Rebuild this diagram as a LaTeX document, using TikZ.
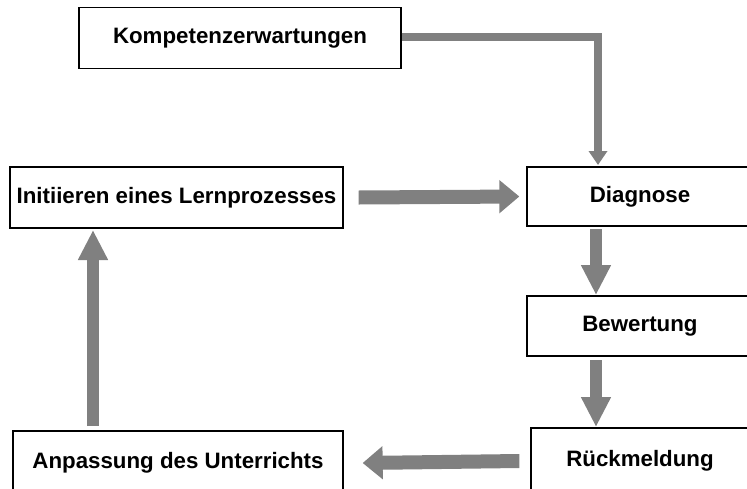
\documentclass[tikz,border=0pt]{standalone}
\usepackage{fontspec}
\setmainfont{Liberation Sans}
\usetikzlibrary{arrows.meta}
\definecolor{arrowgray}{HTML}{808080}
\tikzset{
  box/.style={draw=black, line width=1.3pt, fill=white, font=\bfseries\fontsize{22.3}{26}\selectfont, inner sep=0pt},
  flow/.style={draw=arrowgray, line width=12pt, -{Triangle[length=30pt, width=28pt]}},
  hflow/.style={draw=arrowgray, line width=14pt, -{Triangle[length=20pt, width=32pt]}},
  thin flow/.style={draw=arrowgray, line width=8pt, -{Triangle[length=14pt, width=18pt]}}
}
\begin{document}
\begin{tikzpicture}[x=1pt, y=-1pt]
\useasboundingbox (0,0) rectangle (747,488);
\node[box, minimum width=322pt, minimum height=61pt] (komp) at (240,38) {Kompetenzerwartungen};
\node[box, minimum width=333pt, minimum height=61pt] (init) at (176.5,197.5) {Initiieren eines Lernprozesses};
\node[box, minimum width=226pt, minimum height=59pt] (diag) at (640,196.5) {Diagnose};
\node[box, minimum width=226pt, minimum height=60pt] (bew) at (640,326) {Bewertung};
\node[box, minimum width=218pt, minimum height=66pt] (rueck) at (640,461) {Rückmeldung};
\node[box, minimum width=330pt, minimum height=64pt] (anp) at (178,463) {Anpassung des Unterrichts};
\coordinate (bend) at (598,37);
\draw[thin flow] (komp.east |- bend) -- (bend) -- (598,165);
\draw[hflow] ([xshift=15pt]init.east) -- ([xshift=-7pt]diag.west);
\draw[flow] (596,229) -- (596,295);
\draw[flow] (596,360) -- (596,427);
\draw[hflow] ([xshift=-11pt]rueck.west) -- ([xshift=19pt]anp.east);
\draw[flow] (93,426) -- (93,230);
\end{tikzpicture}
\end{document}
